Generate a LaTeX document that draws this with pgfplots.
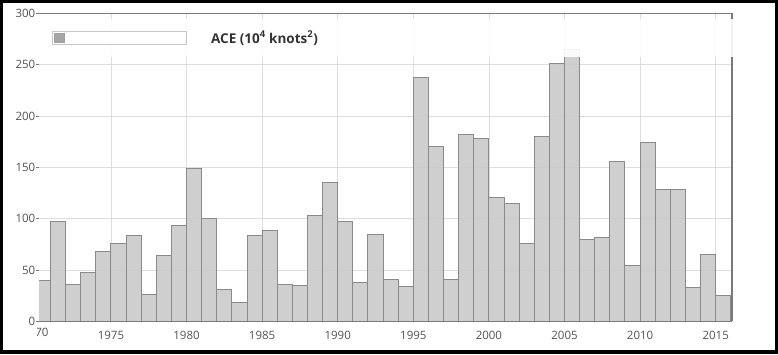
\documentclass[border=0pt]{standalone}
\usepackage{pgfplots}
\pgfplotsset{compat=1.18}
\usepackage{fontspec}
\setmainfont{Open Sans}
\definecolor{barfill}{HTML}{CBCBCB}
\definecolor{barline}{HTML}{8A8A8A}
\definecolor{gridc}{HTML}{DDDDDD}
\definecolor{tickc}{HTML}{555555}
\definecolor{axc}{HTML}{7A7A7A}
\definecolor{legc}{HTML}{333333}
\begin{document}
\begin{tikzpicture}
\fill[black] (0pt,0pt) rectangle (778pt,354pt);
\fill[white] (3pt,4pt) rectangle (775pt,351pt);
\begin{axis}[
 at={(39pt,32.7pt)}, anchor=south west, scale only axis,
 width=693pt, height=308pt,
 xmin=1970.24, xmax=2016.08, ymin=0, ymax=300,
 clip mode=individual,
 axis line style={draw=none},
 xtick={1970,1975,...,2015}, ytick={0,50,...,300},
 xmajorgrids, ymajorgrids,
 grid style={gridc, line width=0.8pt},
 tick align=outside, major tick length=3pt, tick pos=left,
 xtick style={draw=none},
 ytick style={draw=axc, line width=0.8pt},
 /pgf/number format/.cd, 1000 sep={}, assume math mode=true, /pgfplots/.cd,
 tick label style={font=\fontsize{11.5}{13}\selectfont, text=tickc},
 yticklabel style={inner xsep=0.5pt},
 xticklabel style={yshift=-3pt},
 legend style={at={(rel axis cs:0.01876,0.9207)}, anchor=west, draw=none, fill=none, inner sep=0pt, nodes={inner sep=0pt}, font=\fontsize{13.5}{15}\selectfont\bfseries, text=legc},
 legend image code/.code={
   \draw[draw=gray!45, fill=white, line width=0.8pt] (0pt,-6.5pt) rectangle (134pt,6.5pt);
   \fill[gray!75] (2.3pt,-4.3pt) rectangle (11.7pt,4.3pt);
   \path (158pt,0pt);
 },
]
\addplot[ybar interval, fill=barfill, draw=barline, line width=1pt, fill opacity=0.92] coordinates {
(1970,40) (1971,97) (1972,36) (1973,48) (1974,68) (1975,76) (1976,84) (1977,26) (1978,64) (1979,93)
(1980,149) (1981,100) (1982,31) (1983,18) (1984,84) (1985,88) (1986,36) (1987,35) (1988,103) (1989,135)
(1990,97) (1991,38) (1992,85) (1993,41) (1994,34) (1995,237) (1996,170) (1997,41) (1998,182) (1999,178)
(2000,121) (2001,115) (2002,76) (2003,180) (2004,251) (2005,265) (2006,80) (2007,82) (2008,156) (2009,54)
(2010,174) (2011,128) (2012,128) (2013,33) (2014,65) (2015,25) (2016,0)
};
\addlegendentry{ACE (10\textsuperscript{4} knots\textsuperscript{2})}
\draw[axc, line width=1pt] (rel axis cs:0,1) -- (rel axis cs:1,1);
\draw[axc, line width=1pt] (rel axis cs:0,0) -- (rel axis cs:1,0);
\draw[axc, line width=1.4pt] (rel axis cs:1,0) -- (rel axis cs:1,1);
\fill[white, fill opacity=0.9] (rel axis cs:0,0.858) rectangle (rel axis cs:1.004,0.9813);
\node[anchor=north, font=\fontsize{11.5}{13}\selectfont, text=tickc, yshift=-3pt, inner sep=0.333em] at (axis cs:1970,0) {1970};
\end{axis}
\fill[white] (14pt,12pt) rectangle (36.6pt,27.5pt);
\end{tikzpicture}
\end{document}
